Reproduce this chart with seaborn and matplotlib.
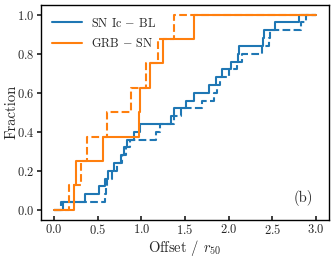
import numpy as np
import pandas as pd
import matplotlib
matplotlib.use("Agg")
import matplotlib.pyplot as plt
import seaborn as sns

# offsets (in units of r50)
ic_bl_solid = [0.10, 0.35, 0.52, 0.58, 0.615, 0.69, 0.77, 0.80, 0.835, 0.92,
               0.99, 1.345, 1.37, 1.51, 1.60, 1.78, 1.855, 1.93, 2.03, 2.11,
               2.12, 2.40, 2.41, 2.53, 2.81]
ic_bl_dashed = [0.075, 0.59, 0.60, 0.61, 0.67, 0.72, 0.78, 0.82, 0.87, 1.17,
                1.22, 1.38, 1.45, 1.69, 1.83, 1.87, 1.90, 2.00, 2.10, 2.15,
                2.38, 2.46, 2.47, 2.83, 2.89]
grb_sn_solid = [0.23, 0.25, 0.56, 0.97, 0.99, 1.10, 1.25, 1.60]
grb_sn_dashed = [0.17, 0.31, 0.38, 0.61, 0.88, 1.05, 1.19, 1.38]

x_start, x_end = 0.0, 3.0


def cdf_frame(offsets):
    x = np.sort(np.asarray(offsets))
    frac = np.arange(1, len(x) + 1) / len(x)
    x = np.concatenate([[x_start], x, [x_end]])
    frac = np.concatenate([[0.0], frac, [1.0]])
    return pd.DataFrame({"offset": x, "fraction": frac})


sns.set_theme(style="ticks")
plt.rcParams["font.family"] = ["cmr10", "DejaVu Serif"]
plt.rcParams["mathtext.fontset"] = "cm"
plt.rcParams["axes.formatter.use_mathtext"] = True

fig = plt.figure(figsize=(3.35, 2.59), dpi=100)
ax = fig.add_axes([0.122, 0.152, 0.860, 0.829])

blue, orange = "#1f77b4", "#ff7f0e"
curves = [
    (ic_bl_solid, "-", blue),
    (ic_bl_dashed, "--", blue),
    (grb_sn_solid, "-", orange),
    (grb_sn_dashed, "--", orange),
]
for offsets, ls, col in curves:
    sns.lineplot(data=cdf_frame(offsets), x="offset", y="fraction", estimator=None,
                 drawstyle="steps-post", color=col, linestyle=ls,
                 linewidth=1.5, ax=ax, legend=False)

handles = [ax.lines[0], ax.lines[2]]
ax.legend(handles, ["SN Ic $-$ BL", "GRB $-$ SN"], loc="upper left",
          frameon=False, fontsize=8.8, handlelength=2.5, handletextpad=0.7,
          labelspacing=0.6, borderpad=0, borderaxespad=0,
          bbox_to_anchor=(0.038, 0.945))

ax.set_xticks([0.0, 0.5, 1.0, 1.5, 2.0, 2.5, 3.0])
ax.set_yticks([0.0, 0.2, 0.4, 0.6, 0.8, 1.0])
ax.tick_params(axis="x", direction="in", labelsize=9, length=3, pad=2.5)
ax.tick_params(axis="y", direction="out", labelsize=9, length=3, pad=1.5)
ax.set_xlabel("Offset / $r_{50}$", fontsize=10.5, labelpad=1)
ax.set_ylabel("Fraction", fontsize=10.5, labelpad=-1)
for s in ax.spines.values():
    s.set_visible(True)
    s.set_linewidth(1.0)
    s.set_color("black")

ax.text(0.91, 0.10, "(b)", transform=ax.transAxes, fontsize=10.5,
        ha="center", va="center")

fig.savefig("out.png", dpi=100)
